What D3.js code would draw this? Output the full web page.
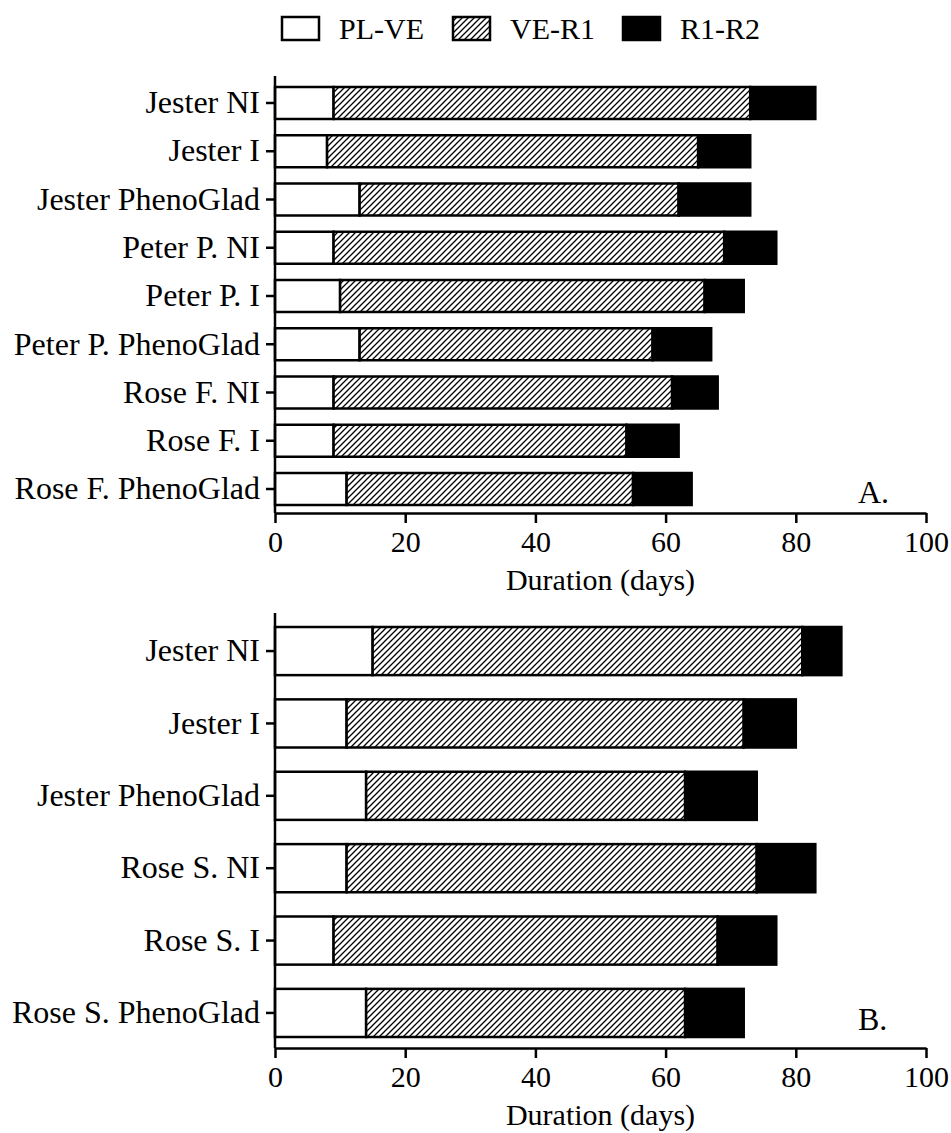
<!DOCTYPE html>
<html>
<head>
<meta charset="utf-8">
<script src="https://cdn.jsdelivr.net/npm/d3@7"></script>
<style>
  body { margin: 0; background: #fff; }
  svg { display: block; }
  text { font-family: "Liberation Serif", "Times New Roman", serif; fill: #000; }
</style>
</head>
<body>
<svg id="chart" width="951" height="1133"></svg>
<script>
// Phenological stage durations (days) per cultivar / treatment
const stages = ["PL-VE", "VE-R1", "R1-R2"];

const categoriesA = ["Jester NI", "Jester I", "Jester PhenoGlad", "Peter P. NI", "Peter P. I",
  "Peter P. PhenoGlad", "Rose F. NI", "Rose F. I", "Rose F. PhenoGlad"];
const plVeA = [9, 8, 13, 9, 10, 13, 9, 9, 11];
const veR1A = [64, 57, 49, 60, 56, 45, 52, 45, 44];
const r1R2A = [10, 8, 11, 8, 6, 9, 7, 8, 9];

const categoriesB = ["Jester NI", "Jester I", "Jester PhenoGlad", "Rose S. NI", "Rose S. I", "Rose S. PhenoGlad"];
const plVeB = [15, 11, 14, 11, 9, 14];
const veR1B = [66, 61, 49, 63, 59, 49];
const r1R2B = [6, 8, 11, 9, 9, 9];

const xTicks = [0, 20, 40, 60, 80, 100];
const xTitle = "Duration (days)";

const svg = d3.select("#chart");
const SW = 2.5;

// hatch pattern for the VE-R1 stage
const defs = svg.append("defs");
const pat = defs.append("pattern")
  .attr("id", "hatch").attr("patternUnits", "userSpaceOnUse")
  .attr("width", 6).attr("height", 6);
pat.append("rect").attr("width", 6).attr("height", 6).attr("fill", "#fff");
pat.append("path").attr("d", "M-1,1 l2,-2 M0,6 l6,-6 M5,7 l2,-2")
  .attr("stroke", "#000").attr("stroke-width", 1.3);

const fills = { "PL-VE": "#fff", "VE-R1": "url(#hatch)", "R1-R2": "#000" };

const x = d3.scaleLinear().domain([0, 100]).range([275, 926]);

function panel(cfg) {
  const rows = cfg.cats.map((c, i) => ({ cat: c, "PL-VE": cfg.a[i], "VE-R1": cfg.b[i], "R1-R2": cfg.c[i] }));
  const series = d3.stack().keys(stages)(rows);

  const y = d3.scaleBand().domain(cfg.cats).range(cfg.bandRange)
    .paddingInner(cfg.padInner).paddingOuter(0);

  const g = svg.append("g");

  series.forEach(s => {
    g.append("g").selectAll("rect").data(s).join("rect")
      .attr("x", d => x(d[0]))
      .attr("y", d => y(d.data.cat))
      .attr("width", d => x(d[1]) - x(d[0]))
      .attr("height", y.bandwidth())
      .attr("fill", fills[s.key])
      .attr("stroke", "#000")
      .attr("stroke-width", SW);
  });

  // y axis
  const yAx = g.append("g").attr("transform", `translate(${x(0)},0)`)
    .call(d3.axisLeft(y).tickSize(9).tickPadding(6));
  yAx.select(".domain").remove();
  yAx.selectAll(".tick line").attr("stroke", "#000").attr("stroke-width", SW);
  yAx.selectAll(".tick text").style("font-size", "32px").attr("fill", "#000");
  g.append("line").attr("x1", x(0)).attr("x2", x(0))
    .attr("y1", cfg.top).attr("y2", cfg.axisY)
    .attr("stroke", "#000").attr("stroke-width", SW);

  // x axis
  const xAx = g.append("g").attr("transform", `translate(0,${cfg.axisY})`)
    .call(d3.axisBottom(x).tickValues(xTicks).tickSize(10).tickSizeOuter(0).tickPadding(8));
  xAx.select(".domain").attr("stroke", "#000").attr("stroke-width", SW);
  xAx.selectAll(".tick line").attr("stroke", "#000").attr("stroke-width", SW);
  xAx.selectAll(".tick text").style("font-size", "30px").attr("fill", "#000");

  g.append("text").attr("x", (x(0) + x(100)) / 2).attr("y", cfg.axisY + 77)
    .attr("text-anchor", "middle").style("font-size", "30px").text(xTitle);

  g.append("text").attr("x", 858).attr("y", cfg.letterY)
    .style("font-size", "32px").text(cfg.letter);
}

panel({ cats: categoriesA, a: plVeA, b: veR1A, c: r1R2A,
  bandRange: [87, 505], padInner: 0.337, top: 76, axisY: 513, letter: "A.", letterY: 503 });
panel({ cats: categoriesB, a: plVeB, b: veR1B, c: r1R2B,
  bandRange: [627, 1037], padInner: 0.335, top: 613, axisY: 1048, letter: "B.", letterY: 1030 });

// legend
const legend = svg.append("g");
const legX = [282, 453, 623];
stages.forEach((s, i) => {
  legend.append("rect").attr("x", legX[i]).attr("y", 17).attr("width", 37).attr("height", 23)
    .attr("fill", fills[s]).attr("stroke", "#000").attr("stroke-width", SW);
  legend.append("text").attr("x", legX[i] + 57).attr("y", 39)
    .style("font-size", "30px").text(s);
});
</script>
</body>
</html>
